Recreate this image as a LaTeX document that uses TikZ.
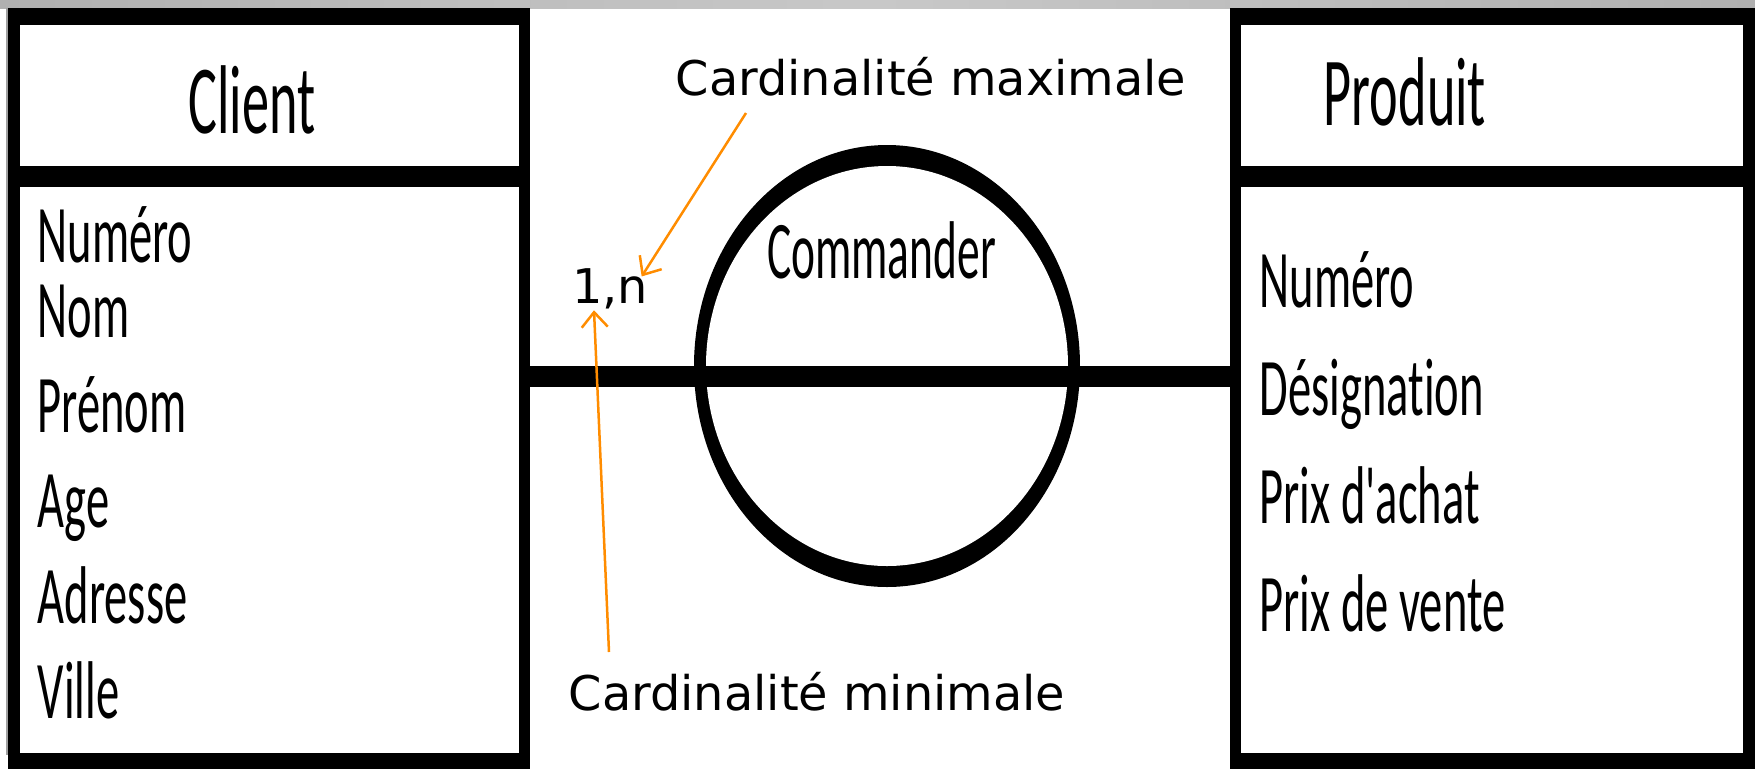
\documentclass[tikz,border=0pt]{standalone}
\usepackage{fontspec}
\setmainfont{DejaVu Sans}
\newfontfamily\narrow[FakeStretch=0.555,Ligatures={TeXOff,NoCommon}]{Carlito}
\newfontfamily\narrowattr[FakeStretch=0.568,Ligatures={TeXOff,NoCommon}]{Carlito}
\usetikzlibrary{arrows.meta,positioning,shapes.geometric}
\definecolor{ink}{HTML}{000000}
\definecolor{note}{HTML}{FF8C00}
\definecolor{barl}{HTML}{B0B0B0}
\definecolor{barm}{HTML}{C8C8C8}
\definecolor{rule}{HTML}{A0A0A0}

\begin{document}
\begin{tikzpicture}[x=0.1mm,y=-0.1mm,
  frame/.style={rectangle,fill=ink,inner sep=0pt,outer sep=0pt},
  pane/.style={rectangle,fill=white,inner sep=0pt,outer sep=0pt},
  ent/.style={font=\narrow\fontsize{27.8}{30}\selectfont,inner sep=0pt,anchor=base},
  attr/.style={font=\narrowattr\fontsize{23.3}{26}\selectfont,inner sep=0pt,anchor=base west},
  lbl/.style={font=\fontsize{13.6}{16}\selectfont,inner sep=0pt,anchor=base},
  link/.style={draw=ink,line width=2.1mm},
  ptr/.style={-{Straight Barb[length=1.5mm,width=2.6mm]},draw=note,line width=0.25mm}]

  \useasboundingbox (0,0) rectangle (1755,769);

  % window edge
  \shade[left color=barl,right color=barl,middle color=barm] (0,0) rectangle (1755,8);
  \draw[rule,line width=0.2mm] (7,8) -- (7,755);

  % entity Client
  \node[frame,minimum width=52.2mm,minimum height=76.1mm] (client) at (269,388.5) {};
  \node[pane,minimum width=49.9mm,minimum height=14.1mm] (clienthd) at (269.5,95.5) {};
  \node[pane,minimum width=49.9mm,minimum height=56.6mm] (clientbd) at (269.5,470) {};
  \node[ent] (clientname) at (252,133) {Client};
  \foreach \t/\y [count=\i] in {Numéro/262,Nom/337,Prénom/432,Age/527,Adresse/623,Ville/718}
    \node[attr] (ca\i) at (37,\y) {\t};

  % entity Produit
  \node[frame,minimum width=52.5mm,minimum height=76.1mm] (produit) at (1492.5,388.5) {};
  \node[pane,minimum width=50.2mm,minimum height=14.1mm] (produithd) at (1492,95.5) {};
  \node[pane,minimum width=50.2mm,minimum height=56.6mm] (produitbd) at (1492,470) {};
  \node[ent] (produitname) at (1405,125) {Produit};
  \foreach \t/\y [count=\i] in {Numéro/307,Désignation/415,Prix d'achat/523,Prix de vente/631}
    \node[attr] (pa\i) at (1259,\y) {\t};

  % association
  \node[ellipse,fill=ink,inner sep=0pt,minimum width=38.6mm,minimum height=44.2mm] (commander) at (887,366) {};
  \node[ellipse,fill=white,inner sep=0pt,minimum width=36.2mm,minimum height=40mm] (commanderin) at (887,366) {};
  \node[ent,font=\narrow\fontsize{23.3}{26}\selectfont] (commandername) at (881.5,278) {Commander};

  \coordinate (lnk) at (887,376.5);
  \draw[link] (client.east|-lnk) -- (produit.west|-lnk);

  % cardinalities
  \node[lbl] (card) at (610,303) {1,n};
  \node[lbl] (maxlbl) at (931,95) {Cardinalité maximale};
  \node[lbl] (minlbl) at (817,710) {Cardinalité minimale};
  \coordinate (maxtail) at (746,113);
  \coordinate (mintail) at (609,652);
  \draw[ptr] (maxtail) -- ([shift={(-7,9)}]card.north east);
  \draw[ptr] (mintail) -- ([shift={(-16,1)}]card.south);
\end{tikzpicture}
\end{document}
